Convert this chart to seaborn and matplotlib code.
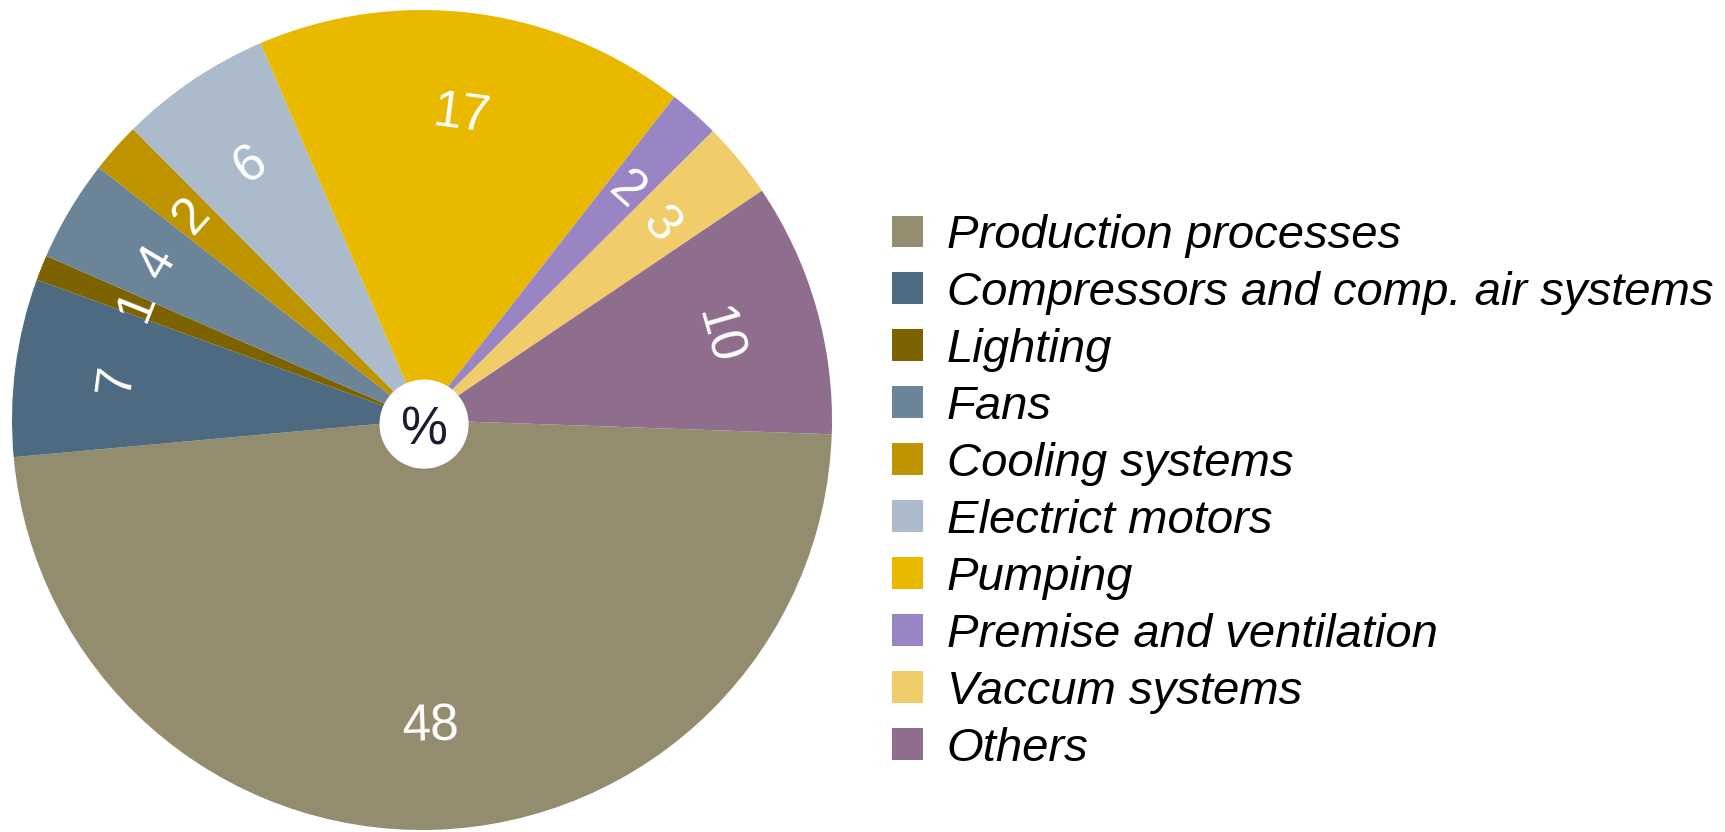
import numpy as np
import matplotlib
matplotlib.use("Agg")
import matplotlib.pyplot as plt
import matplotlib.patches as mpatches
import seaborn as sns

# данні
categories = [
    "Production processes",
    "Compressors and comp. air systems",
    "Lighting",
    "Fans",
    "Cooling systems",
    "Electrict motors",
    "Pumping",
    "Premise and ventilation",
    "Vaccum systems",
    "Others",
]
shares = [48, 7, 1, 4, 2, 6, 17, 2, 3, 10]
colors_hex = [
    "#938C6E", "#4D6A80", "#7D6200", "#6C8497", "#BE9300",
    "#ABBBCB", "#E9B900", "#9A85C4", "#F1CC6B", "#8F6D8D",
]

sns.set_theme(style="white")
plt.rcParams["font.family"] = ["Liberation Sans", "DejaVu Sans"]
plt.rcParams["text.color"] = "black"
palette = sns.color_palette(colors_hex)

fig = plt.figure(figsize=(17.25, 8.32), dpi=100)
ax = fig.add_axes([12 / 1725, 2 / 832, 820 / 1725, 820 / 832])

wedges, texts = ax.pie(
    shares,
    labels=[str(v) for v in shares],
    colors=palette,
    startangle=-2,
    counterclock=False,
    labeldistance=0.75,
    wedgeprops=dict(linewidth=0),
)

# підписи вздовж радіуса
for w, t in zip(wedges, texts):
    theta = (w.theta1 + w.theta2) / 2
    rot = theta - 90 if np.sin(np.radians(theta)) >= 0 else theta + 90
    t.set_rotation(rot)
    t.set_rotation_mode("anchor")
    t.set_ha("center")
    t.set_va("center")
    t.set_color("white")
    t.set_fontsize(37)

ax.add_patch(plt.Circle((0.005, -0.01), 0.107, color="white", zorder=3))
ax.text(0.005, -0.025, "%", ha="center", va="center", fontsize=38,
        color="#1c1c30", zorder=4)

ax.set_xlim(-1, 1)
ax.set_ylim(-1, 1)
ax.set_aspect("equal")
ax.axis("off")

handles = [mpatches.Patch(facecolor=c, edgecolor="none") for c in palette]
fig.legend(
    handles, categories,
    loc="upper left",
    bbox_to_anchor=(892 / 1725, 1 - 214 / 832),
    frameon=False,
    prop=dict(family="Liberation Sans", style="italic", size=34),
    labelcolor="black",
    handlelength=0.66,
    handleheight=0.66,
    handletextpad=0.5,
    labelspacing=0.275,
    borderpad=0,
    borderaxespad=0,
)

fig.savefig("out.png", dpi=100)
